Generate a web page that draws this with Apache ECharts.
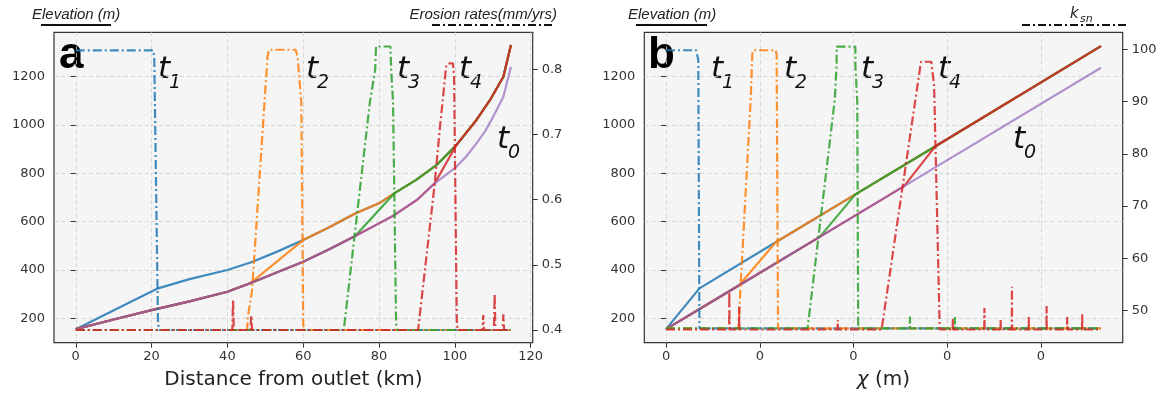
<!DOCTYPE html>
<html>
<head>
<meta charset="utf-8">
<script src="https://cdn.jsdelivr.net/npm/echarts@6/dist/echarts.min.js"></script>
<style>
  html, body { margin: 0; padding: 0; background: #fff; }
  #chart { width: 1169px; height: 400px; }
</style>
</head>
<body>
<div id="chart"></div>
<script>
// ---- panel a : distance from outlet (km) ----
const distTicks = [0, 20, 40, 60, 80, 100, 120];
const elevTicks = [200, 400, 600, 800, 1000, 1200];
const erosionTicks = [0.4, 0.5, 0.6, 0.7, 0.8];

// initial profile t0
const elevT0 = [[0,155],[10,195],[20,234],[30,270],[40,310],[46,345],[53,390],[60,434],[67,487],[73.7,541],[80,593],[84,627],[90,690],[94.7,759],[100.4,827],[103,870],[105.7,924],[108,975],[110.1,1034],[112.8,1117],[114.8,1241]];
// uplifted upper reach shared by t1..t4
const elevUpper = [[21.7,324],[30,362],[40,400],[46.3,432],[53,475],[60,524],[67,578],[73.7,634],[80,676],[84,717],[90,775],[95.2,835],[100.4,917],[105.7,1021],[109.3,1104],[112.8,1200],[114.8,1331]];
const knickBase = [0, 46, 73.7, 94.7];
const knickTop = [21.7, 60, 84, 100.4];

const erosionT1 = [[0,0.829],[20.4,0.829],[20.7,0.82],[21.7,0.41],[22,0.4],[114.8,0.4]];
const erosionT2 = [[0,0.4],[45.2,0.4],[45.4,0.42],[46.5,0.46],[49.8,0.75],[50.6,0.82],[51,0.83],[58,0.83],[58.5,0.82],[59.5,0.75],[60,0.41],[60.2,0.4],[114.8,0.4]];
const erosionT3 = [[0,0.4],[70.7,0.4],[70.9,0.41],[77.6,0.75],[79,0.8],[79.2,0.835],[83,0.835],[83.2,0.8],[83.7,0.75],[84.5,0.41],[84.7,0.4],[114.8,0.4]];
const erosionT4 = [[0,0.4],[41.3,0.4],[41.5,0.446],[41.7,0.4],[46.1,0.4],[46.3,0.422],[46.5,0.4],[90.3,0.4],[90.5,0.41],[94.7,0.625],[96,0.707],[97.7,0.804],[98.2,0.809],[99.5,0.809],[99.8,0.79],[100.5,0.42],[100.7,0.4],[107.3,0.4],[107.5,0.423],[107.7,0.4],[110.3,0.4],[110.5,0.456],[110.7,0.4],[112.6,0.4],[112.8,0.424],[113,0.4],[114.8,0.4]];

// ---- panel b : chi (m) ----
const chiTicks = [0, 0.1, 0.2, 0.3, 0.4];
const ksnTicks = [50, 60, 70, 80, 90, 100];

const chiT0 = [[0,155],[0.078,337],[0.164,537],[0.254,747],[0.464,1237]];
const chiUpper = [[0.0356,324],[0.117,515],[0.202,713],[0.287,911],[0.464,1327]];
const chiKnickBase = [0, 0.078, 0.164, 0.254];
const chiKnickTop = [0.0356, 0.117, 0.202, 0.287];

const ksnT1 = [[0,99.8],[0.032,99.8],[0.0344,98],[0.0356,46.6],[0.464,46.6]];
const ksnT2 = [[0,46.6],[0.0771,46.6],[0.0903,90.3],[0.092,99],[0.093,99.8],[0.117,99.8],[0.118,99],[0.1195,46.6],[0.464,46.6]];
const ksnT3 = [[0,46.6],[0.151,46.6],[0.18,90.3],[0.182,97],[0.182,100.5],[0.202,100.5],[0.202,97],[0.204,90],[0.205,46.6],[0.26,46.6],[0.2602,48.9],[0.2604,46.6],[0.308,46.6],[0.3082,48.8],[0.3084,46.6],[0.464,46.6]];
const ksnT4 = [[0,46.4],[0.0673,46.4],[0.0675,53.6],[0.0677,46.4],[0.0779,46.4],[0.0781,50.8],[0.0783,46.4],[0.183,46.4],[0.1832,48.2],[0.1834,46.4],[0.23,46.4],[0.266,90.3],[0.272,97.6],[0.283,97.6],[0.286,93],[0.292,46.4],[0.3058,46.4],[0.306,48.5],[0.3062,46.4],[0.3395,46.4],[0.3397,50.5],[0.3399,46.4],[0.3568,46.4],[0.357,48.2],[0.3572,46.4],[0.3688,46.4],[0.369,54.6],[0.3692,46.4],[0.3868,46.4],[0.387,48.8],[0.3872,46.4],[0.4058,46.4],[0.406,50.9],[0.4062,46.4],[0.4278,46.4],[0.428,48.8],[0.4282,46.4],[0.4438,46.4],[0.444,49.4],[0.4442,46.4],[0.464,46.4]];

const colors = ['#1f77b4', '#ff7f0e', '#2ca02c', '#d62728'];
const purple = '#9467bd';

function buildProfile(base, upper, b, t) {
  return base.filter(p => p[0] <= b).concat(upper.filter(p => p[0] >= t));
}

function solid(data, color, xi, yi, op) {
  return {
    type: 'line', data: data, xAxisIndex: xi, yAxisIndex: yi,
    symbol: 'none', silent: true, animation: false,
    lineStyle: { color: color, width: 2.2, opacity: op }
  };
}
function dashDot(data, color, xi, yi) {
  return {
    type: 'line', data: data, xAxisIndex: xi, yAxisIndex: yi,
    symbol: 'none', silent: true, animation: false,
    lineStyle: { color: color, width: 2.2, opacity: 0.85, type: [9, 3, 2, 3] }
  };
}

const tickFont = { fontFamily: 'DejaVu Sans', fontSize: 13, color: '#333' };
const gridLine = { show: true, lineStyle: { color: '#cfcfcf', width: 0.8, type: [4, 3] } };

function xAxis(gi, min, max, ticks, name, fmt) {
  return {
    type: 'value', gridIndex: gi, min: min, max: max,
    axisLine: { show: false },
    axisTick: { show: true, customValues: ticks, length: 5, lineStyle: { color: '#333' } },
    axisLabel: Object.assign({ customValues: ticks, margin: 7, formatter: fmt }, tickFont),
    splitLine: gridLine,
    name: name, nameLocation: 'middle', nameGap: 27,
    nameTextStyle: { fontFamily: 'DejaVu Sans', fontSize: 20, color: '#222',
      rich: { i: { fontFamily: 'DejaVu Sans', fontStyle: 'italic', fontSize: 20, color: '#222' } } }
  };
}
function yAxis(gi, min, max, ticks, pos, grid) {
  return {
    type: 'value', gridIndex: gi, min: min, max: max, position: pos,
    axisLine: { show: false },
    axisTick: { show: true, customValues: ticks, length: 5, lineStyle: { color: '#333' } },
    axisLabel: Object.assign({ customValues: ticks, margin: 9, formatter: v => String(v) }, tickFont),
    splitLine: grid ? gridLine : { show: false }
  };
}

const series = [];
for (let i = 0; i < 4; i++) series.push(solid(buildProfile(elevT0, elevUpper, knickBase[i], knickTop[i]), colors[i], 0, 0, 0.85));
series.push(solid(elevT0, purple, 0, 0, 0.7));
[erosionT1, erosionT2, erosionT3, erosionT4].forEach((d, i) => series.push(dashDot(d, colors[i], 0, 1)));
for (let i = 0; i < 4; i++) series.push(solid(buildProfile(chiT0, chiUpper, chiKnickBase[i], chiKnickTop[i]), colors[i], 1, 2, 0.85));
series.push(solid(chiT0, purple, 1, 2, 0.7));
[ksnT1, ksnT2, ksnT3, ksnT4].forEach((d, i) => series.push(dashDot(d, colors[i], 1, 3)));

function tLabel(x, y, sub) {
  return [
    { type: 'text', x: x, y: y, silent: true,
      style: { text: 't', font: 'italic 31px "DejaVu Sans"', fill: '#111', verticalAlign: 'middle' } },
    { type: 'text', x: x + 11, y: y + 13, silent: true,
      style: { text: sub, font: 'italic 19px "DejaVu Sans"', fill: '#111', verticalAlign: 'middle' } }
  ];
}
function headText(x, y, text, align) {
  return { type: 'text', x: x, y: y, silent: true,
    style: { text: text, font: 'italic 15px "Liberation Sans"', fill: '#222', align: align, verticalAlign: 'middle' } };
}
function headLine(x1, x2, dash) {
  return { type: 'line', silent: true, shape: { x1: x1, y1: 25, x2: x2, y2: 25 },
    style: { stroke: '#111', lineWidth: 2, lineDash: dash } };
}

const graphic = [
  headText(32, 15, 'Elevation (m)', 'left'), headLine(41, 111, null),
  headText(557, 15, 'Erosion rates(mm/yrs)', 'right'), headLine(432, 555, [8, 3, 2, 3]),
  headText(628, 15, 'Elevation (m)', 'left'), headLine(636, 707, null),
  { type: 'text', x: 1070, y: 14, silent: true,
    style: { text: 'k', font: 'italic 15px "DejaVu Sans"', fill: '#222', verticalAlign: 'middle' } },
  { type: 'text', x: 1080, y: 19, silent: true,
    style: { text: 'sn', font: 'italic 11px "DejaVu Sans"', fill: '#222', verticalAlign: 'middle' } },
  headLine(1022, 1127, [8, 3, 2, 3]),
  { type: 'text', x: 59, y: 56, silent: true,
    style: { text: 'a', font: 'bold 44px "Liberation Sans"', fill: '#000', verticalAlign: 'middle' } },
  { type: 'text', x: 648, y: 56, silent: true,
    style: { text: 'b', font: 'bold 44px "Liberation Sans"', fill: '#000', verticalAlign: 'middle' } }
].concat(
  tLabel(158, 70, '1'), tLabel(306, 70, '2'), tLabel(397, 70, '3'), tLabel(459, 70, '4'), tLabel(497, 140, '0'),
  tLabel(711, 70, '1'), tLabel(784, 70, '2'), tLabel(861, 70, '3'), tLabel(938, 70, '4'), tLabel(1013, 140, '0')
);

const chart = echarts.init(document.getElementById('chart'), null, { renderer: 'canvas' });
chart.setOption({
  backgroundColor: '#ffffff',
  animation: false,
  grid: [
    { left: 54, right: 636.3, top: 32.3, bottom: 57.3, show: true, backgroundColor: '#f5f5f5', borderColor: '#333', borderWidth: 1.2, outerBoundsMode: 'none' },
    { left: 644.3, right: 46.3, top: 32.3, bottom: 57.3, show: true, backgroundColor: '#f5f5f5', borderColor: '#333', borderWidth: 1.2, outerBoundsMode: 'none' }
  ],
  xAxis: [
    xAxis(0, -5.74, 120.54, distTicks, 'Distance from outlet (km)', v => String(v)),
    xAxis(1, -0.0232, 0.4872, chiTicks, '{i|χ} (m)', v => v.toFixed(0))
  ],
  yAxis: [
    yAxis(0, 99, 1384, elevTicks, 'left', true),
    yAxis(0, 0.3805, 0.8568, erosionTicks, 'right', false),
    yAxis(1, 99, 1384, elevTicks, 'left', true),
    yAxis(1, 43.88, 103.23, ksnTicks, 'right', false)
  ],
  series: series,
  graphic: graphic
});
</script>
</body>
</html>
